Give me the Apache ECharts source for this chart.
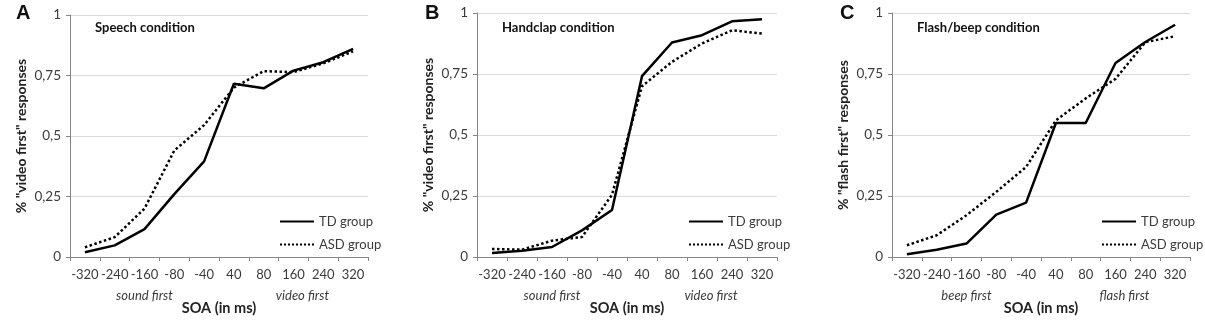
<!DOCTYPE html>
<html>
<head>
<meta charset="utf-8">
<script src="https://cdn.jsdelivr.net/npm/echarts@6/dist/echarts.min.js"></script>
<style>
  html, body { margin: 0; padding: 0; background: #fff; }
  #chart { width: 1205px; height: 321px; }
</style>
</head>
<body>
<div id="chart"></div>
<script>
const soaLabels = ["-320", "-240", "-160", "-80", "-40", "40", "80", "160", "240", "320"];
const yTickLabels = { 0: "0", 0.25: "0,25", 0.5: "0,5", 0.75: "0,75", 1: "1" };
const groupNames = ["TD group", "ASD group"];

const tdSpeech = [0.02, 0.048, 0.115, 0.26, 0.395, 0.716, 0.697, 0.77, 0.805, 0.86];
const asdSpeech = [0.04, 0.082, 0.2, 0.44, 0.545, 0.7, 0.768, 0.764, 0.8, 0.85];
const tdHandclap = [0.016, 0.026, 0.041, 0.109, 0.193, 0.741, 0.879, 0.909, 0.966, 0.974];
const asdHandclap = [0.033, 0.03, 0.067, 0.082, 0.255, 0.7, 0.8, 0.875, 0.929, 0.916];
const tdFlash = [0.011, 0.03, 0.055, 0.174, 0.223, 0.549, 0.549, 0.795, 0.881, 0.952];
const asdFlash = [0.048, 0.089, 0.171, 0.267, 0.369, 0.56, 0.65, 0.73, 0.88, 0.905];

const panels = [
  { letter: "A", title: "Speech condition", yName: "% \"video first\" responses",
    before: "sound first", after: "video first", td: tdSpeech, asd: asdSpeech,
    grid: { left: 70, right: 837, top: 15, bottom: 62 }, letterX: 16 },
  { letter: "B", title: "Handclap condition", yName: "% \"video first\" responses",
    before: "sound first", after: "video first", td: tdHandclap, asd: asdHandclap,
    grid: { left: 477, right: 428, top: 13, bottom: 64 }, letterX: 425 },
  { letter: "C", title: "Flash/beep condition", yName: "% \"flash first\" responses",
    before: "beep first", after: "flash first", td: tdFlash, asd: asdFlash,
    grid: { left: 892, right: 15, top: 13, bottom: 64 }, letterX: 840 }
];

const font = "Lato, 'Open Sans', sans-serif";
const textColor = "#3b3b3b";

const chart = echarts.init(document.getElementById("chart"));

const grids = [], xAxes = [], yAxes = [], series = [], legends = [], graphics = [];

panels.forEach((p, i) => {
  grids.push(p.grid);
  const plotW = 1205 - p.grid.left - p.grid.right;
  const catW = plotW / soaLabels.length;

  xAxes.push({
    type: "category",
    gridIndex: i,
    data: soaLabels,
    boundaryGap: true,
    name: "SOA (in ms)",
    nameLocation: "middle",
    nameGap: 44,
    nameTextStyle: { fontFamily: font, fontWeight: "bold", fontSize: 14.5, color: "#222" },
    axisLine: { lineStyle: { color: "#868686", width: 1 } },
    axisTick: { show: true, length: 4, lineStyle: { color: "#868686" } },
    axisLabel: { fontFamily: font, fontSize: 13, color: textColor, margin: 11, interval: 0 },
    splitLine: { show: false }
  });

  yAxes.push({
    type: "value",
    gridIndex: i,
    min: 0,
    max: 1,
    interval: 0.25,
    name: p.yName,
    nameLocation: "middle",
    nameGap: 42,
    nameTextStyle: { fontFamily: font, fontWeight: "bold", fontSize: 14, color: "#222" },
    axisLine: { show: true, lineStyle: { color: "#868686", width: 1 } },
    axisTick: { show: true, length: 4, lineStyle: { color: "#868686" } },
    axisLabel: {
      fontFamily: font, fontSize: 13.5, color: textColor, margin: 9,
      formatter: v => yTickLabels[v] ?? String(v)
    },
    splitLine: { show: true, lineStyle: { color: "#d9d9d9", width: 1 } }
  });

  series.push({
    name: groupNames[0],
    type: "line",
    xAxisIndex: i,
    yAxisIndex: i,
    data: p.td,
    symbol: "none",
    lineStyle: { color: "#000", width: 2.5, type: "solid" },
    itemStyle: { color: "#000" }
  });
  series.push({
    name: groupNames[1],
    type: "line",
    xAxisIndex: i,
    yAxisIndex: i,
    data: p.asd,
    symbol: "none",
    lineStyle: { color: "#000", width: 2.5, type: "dotted" },
    itemStyle: { color: "#000" }
  });

  legends.push({
    data: groupNames,
    orient: "vertical",
    left: p.grid.left + plotW - 94,
    top: 210,
    itemWidth: 34,
    itemHeight: 14,
    itemGap: 10,
    selectedMode: false,
    itemStyle: { opacity: 0 },
    textStyle: { fontFamily: font, fontSize: 13, color: textColor }
  });

  graphics.push({
    type: "text", left: p.letterX, top: 3,
    style: { text: p.letter, font: "bold 20px 'Liberation Sans', Arial, sans-serif", fill: "#111" }
  });
  graphics.push({
    type: "text", left: p.grid.left + 25, top: 21,
    style: { text: p.title, font: "bold 13px " + font, fill: "#111" }
  });
  graphics.push({
    type: "text", x: p.grid.left + catW * 2.5, y: 296,
    style: { text: p.before, font: "italic 13px " + font, fill: textColor, align: "center", verticalAlign: "middle" }
  });
  graphics.push({
    type: "text", x: p.grid.left + catW * 7.8, y: 296,
    style: { text: p.after, font: "italic 13px " + font, fill: textColor, align: "center", verticalAlign: "middle" }
  });
});

chart.setOption({
  animation: false,
  backgroundColor: "#fff",
  grid: grids,
  xAxis: xAxes,
  yAxis: yAxes,
  legend: legends,
  series: series,
  graphic: graphics
});
</script>
</body>
</html>
